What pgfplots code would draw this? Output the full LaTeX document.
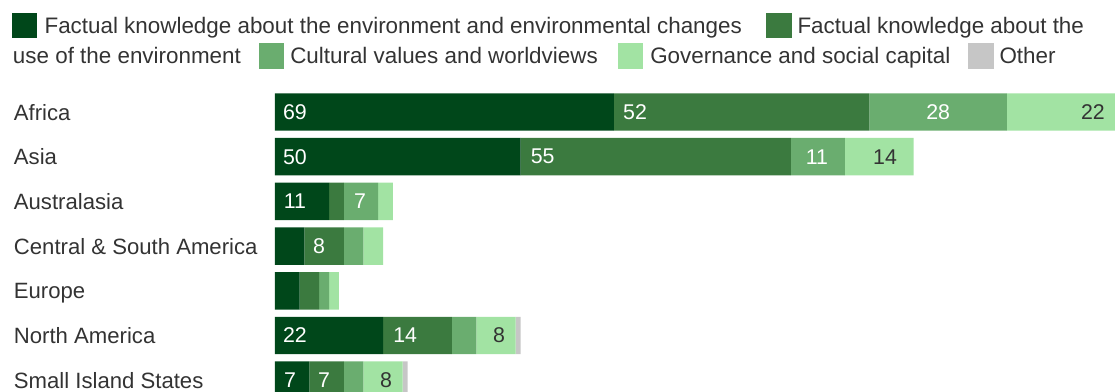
\documentclass[border=0pt]{standalone}
\usepackage{fontspec}
\setmainfont{Liberation Sans}
\usepackage{pgfplots}
\pgfplotsset{compat=1.18}
\definecolor{c1}{HTML}{00471A}
\definecolor{c2}{HTML}{3B7A3F}
\definecolor{c3}{HTML}{6AAD6F}
\definecolor{c4}{HTML}{A2E3A3}
\definecolor{c5}{HTML}{C6C6C6}
\definecolor{tdark}{HTML}{333333}
\newcommand{\cf}{\fontsize{16}{19}\selectfont}
\newcommand{\lf}{\fontsize{16.8}{20}\selectfont}
\newcommand{\yf}{\fontsize{16.6}{20}\selectfont}
\begin{document}
\begin{tikzpicture}
\pgfplotsset{base/.style={
  at={(0,0)}, anchor=north west,
  scale only axis, width=630pt, height=226.76pt,
  xmin=0, xmax=171, ymin=-0.5, ymax=6.264, y dir=reverse,
  clip=true,
}}
\begin{axis}[base,
  xbar stacked, bar width=28.1pt,
  axis line style={draw=none}, major tick length=0pt,
  xtick=\empty, ytick={0,...,6},
  yticklabels={Africa,Asia,Australasia,Central \& South America,Europe,North America,Small Island States},
  yticklabel style={anchor=base west, inner sep=0pt, xshift=-196pt, yshift=-6.1pt, font=\yf, text=tdark},
]
\addplot[fill=c1, draw=none] coordinates {(69,0) (50,1) (11,2) (6,3) (5,4) (22,5) (7,6)};
\addplot[fill=c2, draw=none] coordinates {(52,0) (55,1) (3,2) (8,3) (4,4) (14,5) (7,6)};
\addplot[fill=c3, draw=none] coordinates {(28,0) (11,1) (7,2) (4,3) (2,4) (5,5) (4,6)};
\addplot[fill=c4, draw=none] coordinates {(22,0) (14,1) (3,2) (4,3) (2,4) (8,5) (8,6)};
\addplot[fill=c5, draw=none] coordinates {(0,0) (0,1) (0,2) (0,3) (0,4) (1,5) (1,6)};
\end{axis}
\begin{axis}[base, hide axis]
\addplot[draw=none, mark=none, nodes near coords, point meta=explicit symbolic,
  nodes near coords align=center,
  nodes near coords style={text=white, font=\cf, inner sep=0pt}]
  table[x=x, y=y, meta=l] {
x y l
4.07 0 69
73.3 0 52
135.0 0 28
4.07 1 50
54.5 1 55
110.3 1 11
4.07 2 11
17.3 2 7
8.96 3 8
4.07 5 22
26.5 5 14
3.05 6 7
9.98 6 7
};
\addplot[draw=none, mark=none, nodes near coords, point meta=explicit symbolic,
  nodes near coords align=center,
  nodes near coords style={text=tdark, font=\cf, inner sep=0pt}]
  table[x=x, y=y, meta=l] {
x y l
166.5 0 22
124.2 1 14
45.6 5 8
22.6 6 8
};
\end{axis}
% legend
\fill[c1] (-197.5pt,38.51pt) rectangle (-178.75pt,57.86pt);
\node[anchor=base west, inner sep=0pt, font=\lf, text=tdark] at (-173pt,42.26pt) {Factual knowledge about the environment and environmental changes};
\fill[c2] (368.25pt,38.51pt) rectangle (387.5pt,57.86pt);
\node[anchor=base west, inner sep=0pt, font=\lf, text=tdark] at (391.7pt,42.26pt) {Factual knowledge about the};
\node[anchor=base west, inner sep=0pt, font=\lf, text=tdark] at (-196.7pt,19.76pt) {use of the environment};
\fill[c3] (-11.78pt,15.26pt) rectangle (6.75pt,34.76pt);
\node[anchor=base west, inner sep=0pt, font=\lf, text=tdark] at (11.25pt,19.76pt) {Cultural values and worldviews};
\fill[c4] (257.5pt,15.26pt) rectangle (276.25pt,34.76pt);
\node[anchor=base west, inner sep=0pt, font=\lf, text=tdark] at (281.25pt,19.76pt) {Governance and social capital};
\fill[c5] (520pt,15.26pt) rectangle (539.25pt,34.76pt);
\node[anchor=base west, inner sep=0pt, font=\lf, text=tdark] at (543.2pt,19.76pt) {Other};
\pgfresetboundingbox
\path (-206.25pt,-226.76pt) rectangle (630pt,67.24pt);
\end{tikzpicture}
\end{document}
